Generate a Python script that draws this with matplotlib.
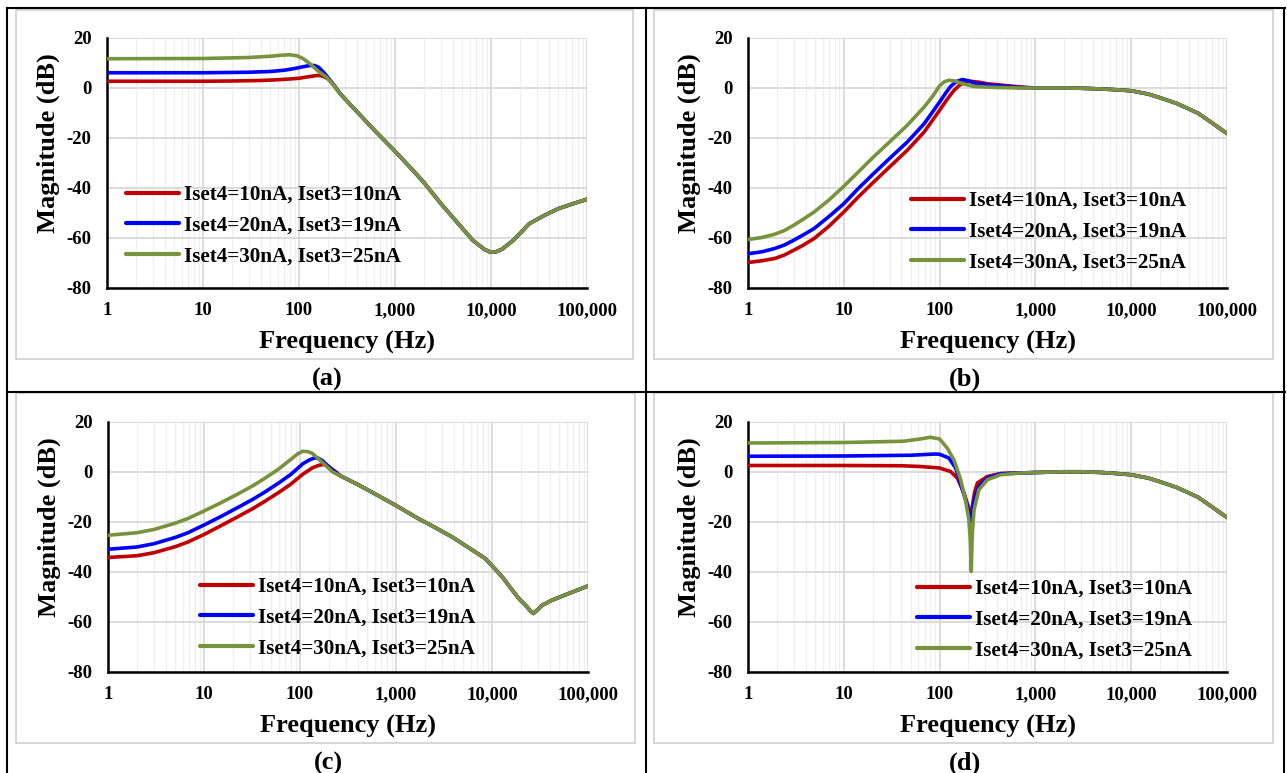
import matplotlib
matplotlib.use("Agg")
import matplotlib.pyplot as plt
from matplotlib.ticker import LogLocator, FixedLocator, FixedFormatter, NullFormatter
from matplotlib.lines import Line2D

plt.rcParams['font.family'] = ['Liberation Serif', 'DejaVu Serif']
plt.rcParams['font.weight'] = 'bold'
plt.rcParams['axes.unicode_minus'] = False

# ---------------- data ----------------
series_labels = ["Iset4=10nA, Iset3=10nA", "Iset4=20nA, Iset3=19nA", "Iset4=30nA, Iset3=25nA"]
series_colors = ["#C00000", "#0000FF", "#77933C"]
x_ticks = [1, 10, 100, 1000, 10000, 100000]
x_tick_labels = ["1", "10", "100", "1,000", "10,000", "100,000"]
y_ticks = [-80, -60, -40, -20, 0, 20]
panel_names = ["(a)", "(b)", "(c)", "(d)"]

# Panel (a)
a_red_f = [1, 3, 10, 20, 40, 60, 80, 100, 125, 150, 165, 180, 200, 230, 265]
a_red_db = [2.7, 2.7, 2.7, 2.8, 3.0, 3.3, 3.6, 3.9, 4.5, 4.95, 5.0, 4.6, 3.7, 1.2, -2.0]
a_blue_f = [1, 10, 30, 50, 70, 90, 110, 130, 145, 160, 180, 200, 230, 265]
a_blue_db = [6.1, 6.1, 6.3, 6.6, 7.1, 7.8, 8.5, 9.0, 9.0, 8.3, 6.3, 4.2, 1.3, -2.0]
a_green_f = [1, 10, 30, 50, 65, 80, 95, 110, 130, 160, 195, 230, 265]
a_green_db = [11.7, 11.8, 12.2, 12.7, 13.1, 13.3, 12.9, 11.8, 9.7, 6.6, 4.2, 1.1, -2.1]
a_tail_f = [300, 400, 600, 1000, 1500, 2000, 3000, 4500, 6500, 8500, 9500, 10500, 11500,
            13000, 17000, 25000, 35000, 50000, 70000, 100000]
a_tail_db = [-4.3, -9.4, -16.6, -25.3, -32.5, -37.8, -46.2, -54.0, -61.0, -64.5, -65.4, -65.7,
             -65.4, -64.5, -61.0, -54.3, -51.2, -48.3, -46.4, -44.5]

# Panel (b)
b_red_f = [1, 1.4, 1.9, 2.4, 3, 3.8, 4.9, 7, 10, 14, 20, 30, 46, 69, 100, 120, 141, 160, 180,
           210, 260, 315, 700]
b_red_db = [-69.8, -69.1, -68.2, -66.8, -64.9, -62.8, -60.2, -55.3, -49.6, -43.8, -38.0, -31.6,
            -24.9, -17.6, -8.9, -4.5, -1.0, 1.0, 2.2, 2.7, 2.3, 1.7, 0.4]
b_blue_f = [1, 1.4, 1.9, 2.4, 3, 3.8, 4.9, 7, 10, 14, 20, 30, 46, 69, 100, 115, 130, 150, 173,
            200, 230, 370, 700]
b_blue_db = [-66.3, -65.5, -64.2, -62.8, -60.9, -58.7, -56.2, -51.4, -46.3, -40.4, -34.6, -28.2,
             -21.6, -14.3, -5.6, -2.2, 0.6, 2.6, 3.4, 2.9, 2.0, 1.0, 0.2]
b_green_f = [1, 1.4, 1.9, 2.4, 3, 3.8, 4.9, 7, 10, 14, 20, 30, 46, 69, 85, 100, 112, 125, 145,
             170, 230, 400, 700]
b_green_db = [-60.6, -59.8, -58.5, -57.0, -54.9, -52.4, -49.6, -44.8, -39.3, -33.8, -27.9, -21.6,
              -14.9, -7.6, -3.2, 0.9, 2.5, 3.1, 2.8, 1.8, 0.6, 0.2, 0.0]
b_tail_f = [1000, 2000, 3000, 5000, 7000, 10000, 15000, 20000, 30000, 50000, 70000, 100000]
b_tail_db = [0.0, 0.0, -0.1, -0.4, -0.7, -1.1, -2.4, -3.9, -6.2, -10.1, -14.0, -18.2]

# Panel (c)
c_red_f = [1, 2, 3, 5, 6.8, 10, 15, 22.5, 32, 42.7, 60, 80, 107, 135, 158, 175, 190, 215, 237]
c_red_db = [-34.2, -33.5, -32.3, -29.9, -28.0, -25.0, -21.5, -17.9, -14.7, -11.8, -8.2, -4.9,
            -0.9, 1.7, 2.7, 3.0, 2.8, 1.2, 0.0]
c_blue_f = [1, 2, 3, 5, 6.8, 10, 15, 22.5, 32, 42.7, 60, 80, 107, 125, 141, 155, 172, 195, 219]
c_blue_db = [-30.9, -30.0, -28.7, -26.2, -24.3, -21.2, -17.8, -14.2, -11.0, -8.1, -4.4, -1.0,
             3.3, 4.8, 5.6, 5.5, 4.5, 2.4, 0.7]
c_green_f = [1, 2, 3, 5, 6.8, 10, 15, 22.5, 32, 42.7, 60, 80, 95, 107, 122, 135, 160, 190, 219]
c_green_db = [-25.3, -24.3, -23.0, -20.5, -18.6, -15.6, -12.3, -8.8, -5.6, -2.6, 1.2, 5.0, 7.3,
              8.3, 8.1, 7.4, 4.8, 2.2, 0.0]
c_tail_f = [260, 414, 600, 1000, 1700, 2500, 3850, 6000, 8500, 11000, 13000, 16000, 19000,
            23000, 25000, 27000, 30000, 33000, 42000, 63000, 100000]
c_tail_db = [-1.4, -5.3, -8.7, -13.4, -18.6, -22.0, -26.0, -30.8, -34.6, -39.2, -42.3, -46.9,
             -50.6, -53.8, -55.5, -56.6, -55.0, -53.4, -51.3, -48.6, -45.6]

# Panel (d)
d_red_f = [1, 10, 40, 63, 100, 130, 153, 180, 198, 207, 212, 220, 232, 248, 315, 434]
d_red_db = [2.6, 2.6, 2.5, 2.2, 1.6, 0.2, -2.4, -8.4, -13.5, -16.5, -18.0, -13.5, -8.0, -4.4,
            -1.8, -0.6]
d_blue_f = [1, 10, 50, 90, 100, 125, 147, 173, 195, 205, 212, 220, 232, 257, 315, 434]
d_blue_db = [6.3, 6.4, 6.7, 7.2, 7.1, 5.6, 1.6, -7.1, -13.5, -17.5, -20.0, -15.5, -10.5, -5.8,
             -2.4, -0.7]
d_green_f = [1, 10, 42, 65, 80, 100, 120, 141, 166, 186, 202, 209, 214, 219, 229, 257, 315, 434]
d_green_db = [11.6, 11.8, 12.3, 13.3, 13.9, 13.2, 9.6, 4.9, -3.1, -11.1, -19.1, -27.0, -39.8,
              -25.0, -15.1, -7.1, -3.1, -1.1]
d_tail_f = [700, 1000, 2000, 3000, 5000, 7000, 10000, 15000, 20000, 30000, 50000, 70000, 100000]
d_tail_db = [-0.4, -0.2, 0.1, 0.1, -0.2, -0.6, -1.1, -2.4, -3.9, -6.2, -10.1, -14.0, -18.2]

panels = [
    ([(a_red_f, a_red_db), (a_blue_f, a_blue_db), (a_green_f, a_green_db)], (a_tail_f, a_tail_db)),
    ([(b_red_f, b_red_db), (b_blue_f, b_blue_db), (b_green_f, b_green_db)], (b_tail_f, b_tail_db)),
    ([(c_red_f, c_red_db), (c_blue_f, c_blue_db), (c_green_f, c_green_db)], (c_tail_f, c_tail_db)),
    ([(d_red_f, d_red_db), (d_blue_f, d_blue_db), (d_green_f, d_green_db)], (d_tail_f, d_tail_db)),
]

# ---------------- layout (pixels) ----------------
W, H = 1287, 773
fig = plt.figure(figsize=(W / 100, H / 100), dpi=100)

axes_px = [(107, 38, 587, 288), (748, 38, 1227, 288), (108, 422, 588, 672), (748, 422, 1227, 672)]
frame_px = [(16, 10, 633, 359), (654, 10, 1273, 359), (16, 393, 635, 743), (654, 393, 1273, 743)]
label_px = [(327, 379), (965, 379), (328, 763), (965, 763)]
legend_px = [(126, 185), (911, 191), (200, 577), (917, 579)]


def fx(x):
    return x / W


def fy(y):
    return 1 - y / H


# table lines
for (x0, y0, x1, y1) in [(7, 8, 1285, 8), (7, 392, 1285, 392), (7, 8, 7, 773),
                         (646, 8, 646, 773), (1284, 8, 1284, 773)]:
    fig.add_artist(Line2D([fx(x0), fx(x1)], [fy(y0), fy(y1)], color="black", lw=1.5,
                          transform=fig.transFigure))

# chart-area frames
for (x0, y0, x1, y1) in frame_px:
    fig.add_artist(plt.Rectangle((fx(x0), fy(y1)), fx(x1) - fx(x0), fy(y0) - fy(y1),
                                 fill=False, edgecolor="#D0D0D0", lw=1.2,
                                 transform=fig.transFigure))

for i, ((x0, y0, x1, y1), (curves, tail)) in enumerate(zip(axes_px, panels)):
    ax = fig.add_axes([fx(x0), fy(y1), fx(x1) - fx(x0), fy(y0) - fy(y1)])
    ax.set_xscale("log")
    ax.set_xlim(1, 100000)
    ax.set_ylim(-80, 20)
    for (f, db), col, lab in zip(curves, series_colors, series_labels):
        ax.plot(list(f) + list(tail[0]), list(db) + list(tail[1]), color=col, lw=2.6,
                label=lab, solid_capstyle="round", solid_joinstyle="round", zorder=3)
    ax.xaxis.set_major_locator(FixedLocator(x_ticks))
    ax.xaxis.set_major_formatter(FixedFormatter(x_tick_labels))
    ax.xaxis.set_minor_locator(LogLocator(base=10, subs=range(2, 10)))
    ax.xaxis.set_minor_formatter(NullFormatter())
    ax.set_yticks(y_ticks)
    ax.grid(True, which="major", color="#D9D9D9", lw=1.3, zorder=0)
    ax.grid(True, which="minor", axis="x", color="#EFEFEF", lw=0.9, zorder=0)
    ax.set_axisbelow(True)
    for s in ["top", "right"]:
        ax.spines[s].set_visible(False)
    for s in ["left", "bottom"]:
        ax.spines[s].set_color("black")
        ax.spines[s].set_linewidth(1.8)
    ax.tick_params(which="both", length=0)
    ax.tick_params(axis="y", pad=11, labelsize=13.5)
    ax.tick_params(axis="x", pad=10, labelsize=13.5)
    for t in ax.get_xticklabels() + ax.get_yticklabels():
        t.set_fontweight("bold")
    ax.set_xlabel("Frequency (Hz)", fontsize=19, fontweight="bold", va="center")
    ax.xaxis.set_label_coords(0.5, -0.216)
    ax.set_ylabel("Magnitude (dB)", fontsize=19, fontweight="bold", va="center")
    ax.yaxis.set_label_coords(-0.122, 0.578)
    lx, ly = legend_px[i]
    leg = ax.legend(loc="upper left", bbox_to_anchor=(fx(lx), fy(ly)),
                    bbox_transform=fig.transFigure, frameon=False, fontsize=15.2,
                    handlelength=2.5, handletextpad=0.25, labelspacing=0.5,
                    borderpad=0, borderaxespad=0)
    for t in leg.get_texts():
        t.set_fontweight("bold")
    for h in leg.get_lines():
        h.set_linewidth(3.0)
    px, py = label_px[i]
    fig.text(fx(px), fy(py), panel_names[i], ha="center", va="center", fontsize=19,
             fontweight="bold")

fig.savefig("out.png", dpi=100, facecolor="white")
